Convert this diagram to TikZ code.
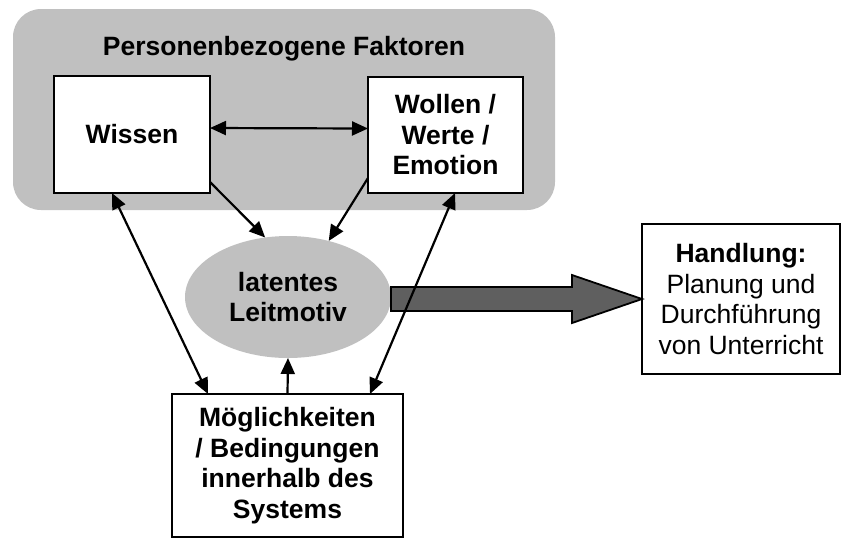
\documentclass[tikz,border=0pt]{standalone}
\usepackage{fontspec}
\setmainfont{Liberation Sans}
\usetikzlibrary{arrows.meta,positioning,shapes.geometric}
\definecolor{panel}{RGB}{192,192,192}
\definecolor{slate}{RGB}{95,95,95}
\newcommand\diafont{\fontsize{13.25}{15.25}\selectfont}

\begin{document}
\begin{tikzpicture}[x=0.5pt,y=-0.5pt,box/.style={draw=black,line width=1.2pt,fill=white,align=center,font=\diafont\bfseries,inner sep=0pt,outer sep=0pt},arrow/.style={-{Triangle[length=8pt,width=7pt]},line width=1.1pt,draw=black},both/.style={arrow,{Triangle[length=8pt,width=7pt]}-{Triangle[length=8pt,width=7pt]}},fat/.style={draw=black,line width=0.9pt,fill=slate}]
\useasboundingbox (0,0) rectangle (841,538);
\node[fill=panel,rounded corners=14pt,minimum width=271pt,minimum height=100.5pt,inner sep=0pt] (personal) at (284,109.5) {};
\node[anchor=base,font=\diafont\bfseries] (title) at (284,55) {Personenbezogene Faktoren};
\node[box,minimum width=78pt,minimum height=58.5pt] (wissen) at (132,134.5) {Wissen};
\node[box,minimum width=77.5pt,minimum height=58pt] (wollen) at (445.5,135) {Wollen /\\Werte /\\Emotion};
\node[ellipse,fill=panel,minimum width=103pt,minimum height=61pt,inner sep=0pt,outer sep=0pt,align=center,font=\diafont\bfseries] (leit) at (288,297) {latentes\\Leitmotiv};
\node[box,font=\diafont,minimum width=99pt,minimum height=75pt] (handl) at (741,299) {\textbf{Handlung:}\\Planung und\\Durchführung\\von Unterricht};
\node[box,minimum width=115.5pt,minimum height=71.5pt] (system) at (287.5,465.5) {Möglichkeiten\\/ Bedingungen\\innerhalb des\\Systems};
\coordinate (shaft) at (leit.east |- handl.west);
\draw[fat] ([yshift=6pt]shaft) -- ++(181,0) -- ++(0,-12) -- (handl.west) -- ++(-70,24) -- ++(0,-12) -- ([yshift=-6pt]shaft) -- cycle;
\draw[both] ([yshift=3.25pt]wissen.east) -- ([yshift=3.25pt]wollen.west);
\draw[arrow] ([yshift=5.5pt]wissen.south east) -- (leit.111.6);
\draw[arrow] ([yshift=7.5pt]wollen.south west) -- (leit.54.7);
\draw[both] ([xshift=-10pt]wissen.south) -- ([xshift=18pt]system.north west);
\draw[both] ([xshift=4.75pt]wollen.south) -- ([xshift=-16.5pt]system.north east);
\draw[arrow] (system.north) -- (leit.south);
\end{tikzpicture}
\end{document}
